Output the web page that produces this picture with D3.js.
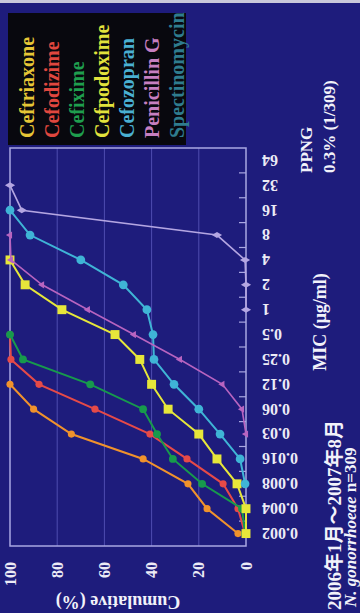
<!DOCTYPE html>
<html lang="ja">
<head>
<meta charset="UTF-8">
<title>N. gonorrhoeae MIC cumulative</title>
<script src="https://cdn.jsdelivr.net/npm/d3@7"></script>
<style>
  html, body { margin: 0; padding: 0; background: #1e1c7c; }
  svg { display: block; }
  text { font-family: "Liberation Serif", "Noto Sans CJK JP", serif; font-weight: bold; }
</style>
</head>
<body>
<div id="chart"></div>
<script>
// ---- data ----
const mics = ["0.002","0.004","0.008","0.016","0.03","0.06","0.12","0.25","0.5","1","2","4","8","16","32","64"];
const pctTicks = [0, 20, 40, 60, 80, 100];
const drugs = ["Ceftriaxone","Cefodizime","Cefixime","Cefpodoxime","Cefozopran","Penicillin G","Spectinomycin"];

// cumulative % per MIC, null = no point
const ceftriaxone   = [3.4, 16.5, 24.6, 43.6, 74, 90, 100, null, null, null, null, null, null, null, null, null];
const cefodizime    = [0.4, 3.4, 9.7, 25, 40.7, 64, 87.7, 99.6, 100, null, null, null, null, null, null, null];
const cefixime      = [0.4, 1.7, 18.6, 31, 37.7, 43.6, 66, 94.5, 100, null, null, null, null, null, null, null];
const cefpodoxime   = [0, 0, 3.8, 12.3, 20, 33, 40, 45, 55.5, 78, 93.6, 100, null, null, null, null];
const cefozopran    = [null, null, 0.4, 2.5, 11, 20, 30.5, 39, 39.4, 42, 52, 70, 91.5, 100, null, null];
const penicillinG   = [null, null, null, null, 0, 1.7, 10, 28, 47.5, 67, 86.4, 99.6, 100, null, null, null];
const spectinomycin = [null, null, null, null, null, null, null, null, null, 0, 0, 0.4, 12.3, 95, 100, null];

const lineColors   = ["#f0922c", "#e64a48", "#179a4c", "#e6e63a", "#3fb4d6", "#b864c0", "#b4a6e2"];
const legendColors = ["#e6c636", "#e0473f", "#1f9e4e", "#e2e23c", "#4ab0d2", "#c77fc0", "#2f7c8e"];

// ---- layout (chart is drawn landscape, then turned a quarter to the left) ----
const W = 360, H = 613;
const plot = { left: 67, right: 465, top: 10, bottom: 246 };

const svg = d3.select("#chart").append("svg")
    .attr("width", W)
    .attr("height", H);

svg.append("rect").attr("width", W).attr("height", H).attr("fill", "#1e1c7c");

const g = svg.append("g")
    .attr("transform", `translate(0,${H}) rotate(-90)`);

const x = d3.scaleBand().domain(mics).range([plot.left, plot.right]);
const cx = m => x(m) + x.bandwidth() / 2;
const y = d3.scaleLinear().domain([0, 100]).range([plot.bottom, plot.top]);

// gridlines
g.append("g")
    .selectAll("line")
    .data(pctTicks.filter(d => d > 0 && d < 100))
    .join("line")
    .attr("x1", plot.left).attr("x2", plot.right)
    .attr("y1", d => y(d)).attr("y2", d => y(d))
    .attr("stroke", "#4f4db0")
    .attr("stroke-width", 1);

// frame
g.append("rect")
    .attr("x", plot.left).attr("y", plot.top)
    .attr("width", plot.right - plot.left)
    .attr("height", plot.bottom - plot.top)
    .attr("fill", "none")
    .attr("stroke", "#a9a7e2")
    .attr("stroke-width", 1.5);

// tick marks between categories, pointing in
g.append("g")
    .selectAll("line")
    .data(mics.slice(1))
    .join("line")
    .attr("x1", d => x(d)).attr("x2", d => x(d))
    .attr("y1", plot.bottom).attr("y2", plot.bottom - 7)
    .attr("stroke", "#a9a7e2")
    .attr("stroke-width", 1.2);

// x axis labels (vertical)
const xAxis = g.append("g")
    .attr("transform", `translate(0,${plot.bottom})`)
    .call(d3.axisBottom(x).tickSize(0));
xAxis.select(".domain").remove();
xAxis.selectAll("text")
    .attr("transform", "rotate(-90)")
    .attr("x", -16)
    .attr("y", 0)
    .attr("dy", "0.35em")
    .attr("text-anchor", "end")
    .attr("fill", "#ecebf6")
    .attr("font-size", 16)
    .attr("font-family", null);

// y axis labels
const yAxis = g.append("g")
    .attr("transform", `translate(${plot.left},0)`)
    .call(d3.axisLeft(y).tickValues(pctTicks).tickSize(0).tickPadding(16));
yAxis.select(".domain").remove();
yAxis.selectAll("text")
    .attr("fill", "#ecebf6")
    .attr("font-size", 16)
    .attr("font-family", null);

// axis titles
g.append("text")
    .attr("transform", "translate(11,118) rotate(-90)")
    .attr("text-anchor", "middle")
    .attr("dy", "0.35em")
    .attr("fill", "#f2f2fa")
    .attr("font-size", 18)
    .text("Cumulative (%)");

g.append("text")
    .attr("x", 291).attr("y", 320)
    .attr("text-anchor", "middle")
    .attr("dy", "0.35em")
    .attr("fill", "#f2f2fa")
    .attr("font-size", 18)
    .text("MIC (μg/ml)");

// series
const series = [ceftriaxone, cefodizime, cefixime, cefpodoxime, cefozopran, penicillinG, spectinomycin]
    .map((vals, i) => ({
        name: drugs[i],
        color: lineColors[i],
        points: vals.map((v, j) => ({ mic: mics[j], v })).filter(p => p.v !== null)
    }));

const line = d3.line()
    .x(d => cx(d.mic))
    .y(d => y(d.v));

const symbols = [
    d3.symbol(d3.symbolCircle, 40),
    d3.symbol(d3.symbolCircle, 40),
    d3.symbol(d3.symbolCircle, 48),
    d3.symbol(d3.symbolSquare, 80),
    d3.symbol(d3.symbolCircle, 60),
    d3.symbol(d3.symbolTriangle, 22),
    d3.symbol(d3.symbolDiamond, 30)
];

const sg = g.append("g")
    .selectAll("g")
    .data(series)
    .join("g");

sg.append("path")
    .attr("fill", "none")
    .attr("stroke", d => d.color)
    .attr("stroke-width", (d, i) => i >= 5 ? 1.6 : 2)
    .attr("d", d => line(d.points));

sg.each(function(s, i) {
    d3.select(this).selectAll(".pt")
        .data(s.points)
        .join("path")
        .attr("class", "pt")
        .attr("transform", d => `translate(${cx(d.mic)},${y(d.v)})`)
        .attr("d", symbols[i]())
        .attr("fill", s.color);
});

// legend (black box, coloured names)
g.append("rect")
    .attr("x", 468).attr("y", 8)
    .attr("width", 132).attr("height", 178)
    .attr("fill", "#08080e");

g.append("g")
    .selectAll("text")
    .data(drugs)
    .join("text")
    .attr("x", 475)
    .attr("y", (d, i) => 27 + i * 25)
    .attr("dy", "0.35em")
    .attr("fill", (d, i) => legendColors[i])
    .attr("font-size", 20)
    .text(d => d);

// PPNG note
const note = g.append("text")
    .attr("fill", "#f2f2fa")
    .attr("font-size", 17);
note.append("tspan").attr("x", 440).attr("y", 306).attr("dy", "0.35em").text("PPNG");
note.append("tspan").attr("x", 440).attr("y", 329).attr("dy", "0.35em").text("0.3% (1/309)");

// period / organism title
g.append("text")
    .attr("x", 3).attr("y", 334)
    .attr("dy", "0.35em")
    .attr("fill", "#f2f2fa")
    .attr("font-size", 19)
    .text("2006年1月～2007年8月");

const org = g.append("text")
    .attr("x", 6).attr("y", 350)
    .attr("dy", "0.35em")
    .attr("fill", "#f2f2fa")
    .attr("font-size", 17);
org.append("tspan").attr("font-style", "italic").text("N. gonorrhoeae");
org.append("tspan").text(" n=309");

// pale edge of the slide along the top
svg.append("rect").attr("width", W).attr("height", 3).attr("fill", "#c9c8da");
</script>
</body>
</html>
